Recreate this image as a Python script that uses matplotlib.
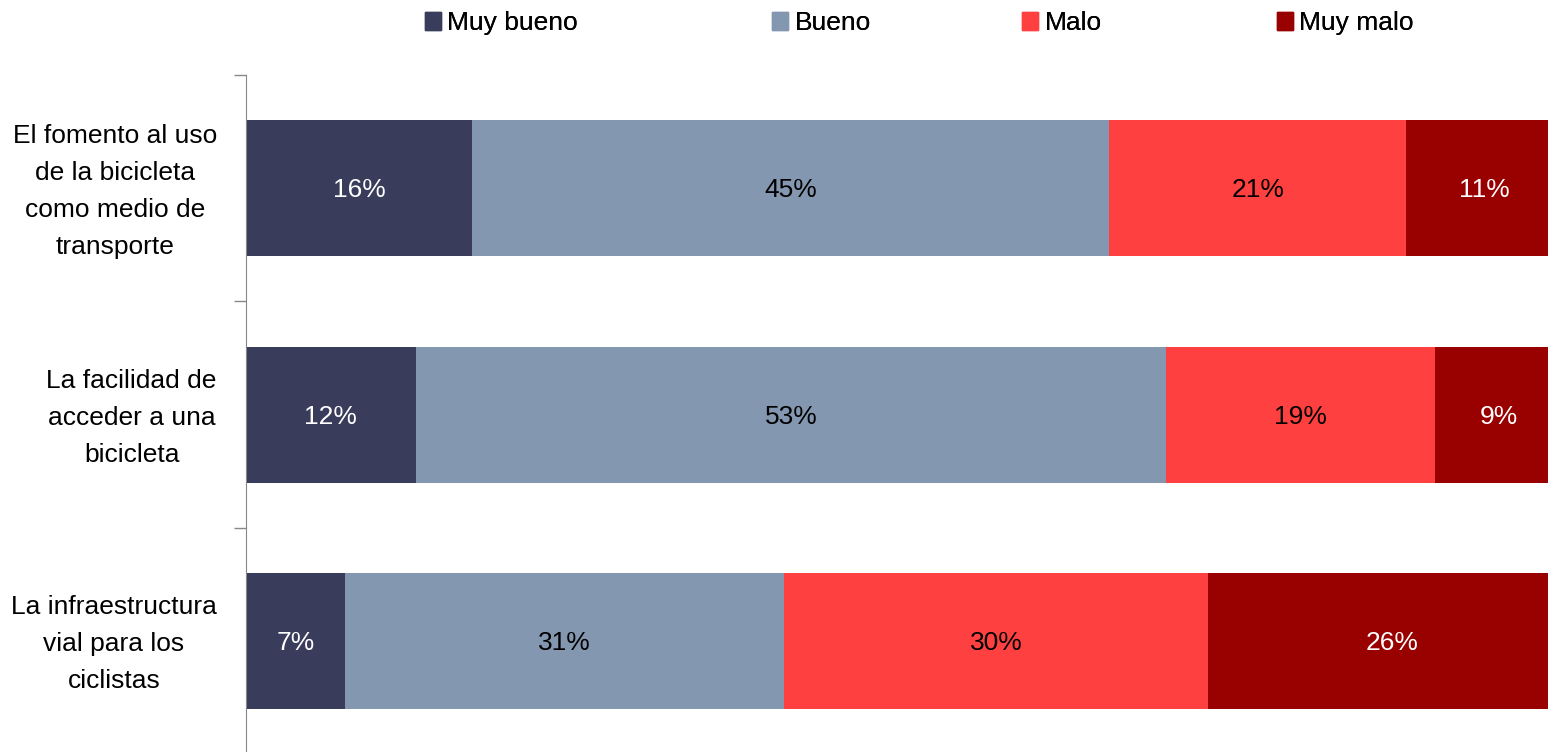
import matplotlib
matplotlib.use('Agg')
import matplotlib.pyplot as plt
import matplotlib.transforms as mtransforms
from matplotlib.patches import Patch
import numpy as np

# datos
categorias = ['El fomento al uso\nde la bicicleta\ncomo medio de\ntransporte',
              'La facilidad de\nacceder a una\nbicicleta',
              'La infraestructura\nvial para los\nciclistas']
series = ['Muy bueno', 'Bueno', 'Malo', 'Muy malo']
muy_bueno = [16, 12, 7]
bueno = [45, 53, 31]
malo = [21, 19, 30]
muy_malo = [11, 9, 26]
colores = ['#393C5A', '#8497B0', '#FF4040', '#990000']
color_txt = ['white', 'black', 'black', 'white']

plt.rcParams['font.family'] = ['Liberation Sans', 'DejaVu Sans']

valores = np.array([muy_bueno, bueno, malo, muy_malo], dtype=float)

fig = plt.figure(figsize=(15.48, 7.52), dpi=100)
ax = fig.add_axes([246/1548, -0.003, 1 - 246/1548, (752 - 75) / 752 + 0.003])

y = np.arange(len(categorias))
izq = np.zeros(len(categorias))
for i in range(len(series)):
    ax.barh(y, valores[i], left=izq, height=0.6, color=colores[i], label=series[i])
    for j in range(len(categorias)):
        ax.text(izq[j] + valores[i][j] / 2, y[j] + 0.01, '%d%%' % valores[i][j],
                ha='center', va='center', fontsize=19, color=color_txt[i])
    izq += valores[i]

# el gráfico original queda recortado por la derecha
ax.set_xlim(0, 92)
ax.set_ylim(len(categorias) - 0.5, -0.5)
ax.set_xticks([])
ax.set_yticks(y)
ax.set_yticklabels(categorias, fontsize=19, ha='right', multialignment='center',
                   linespacing=1.68)
ax.tick_params(axis='y', which='major', length=0, pad=21)
desplaz = mtransforms.ScaledTranslation(0, 0.06, fig.dpi_scale_trans)
for lab in ax.get_yticklabels():
    lab.set_transform(lab.get_transform() + desplaz)
ax.set_yticks(np.arange(-0.5, len(categorias)), minor=True)
ax.tick_params(axis='y', which='minor', length=9, color='#888888', width=1)
for lado in ['top', 'right', 'bottom']:
    ax.spines[lado].set_visible(False)
ax.spines['left'].set_color('#888888')

# leyenda: una entrada por posición
pos_ley = [425, 772, 1022, 1277]
for i in range(len(series)):
    leg = fig.legend(handles=[Patch(color=colores[i], label=series[i])],
                     loc='center left', bbox_to_anchor=(pos_ley[i] / 1548, 1 - 23 / 752),
                     frameon=False, fontsize=19, handlelength=0.6, handleheight=0.7,
                     handletextpad=0.25, borderpad=0, borderaxespad=0)
    fig.add_artist(leg)

fig.savefig('out.png', dpi=100)
